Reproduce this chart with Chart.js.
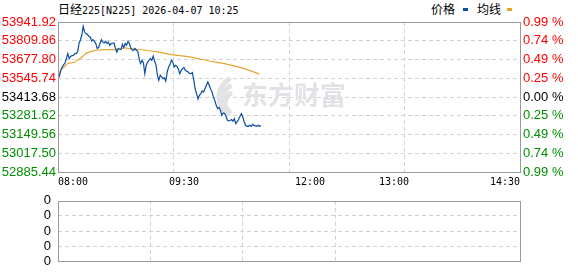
<!DOCTYPE html>
<html>
<head>
<meta charset="utf-8">
<script src="https://cdn.jsdelivr.net/npm/chart.js@4.4.1/dist/chart.umd.min.js"></script>
<style>
  body { margin: 0; background: #fff; width: 578px; height: 276px; overflow: hidden; position: relative; }
  canvas { position: absolute; left: 0; }
  #main { top: 0; }
  #vol { top: 186px; }
  .txt { position: absolute; top: 2px; height: 14px; line-height: 14px; white-space: nowrap; color: #000; }
  .cjk { font-family: "Noto Sans CJK SC"; font-size: 12px; }
  .mono { font-family: "DejaVu Sans Mono"; font-size: 10px; }
  .key { position: absolute; top: 8px; width: 5px; height: 3px; }
</style>
</head>
<body>
<div class="txt" style="left:58px"><span class="cjk">日经</span><span class="mono">225[N225] 2026-04-07 10:25</span></div>
<div class="txt cjk" style="left:431px">价格</div>
<div class="key" style="left:463px;background:#0b4fa3"></div>
<div class="txt cjk" style="left:477px">均线</div>
<div class="key" style="left:507px;background:#e3a72f"></div>
<canvas id="main" width="578" height="192"></canvas>
<canvas id="vol" width="578" height="90"></canvas>
<script>
// minutes from 08:00, one price per minute up to 10:25
var price = [
  53571, 53560, 53602, 53625, 53640, 53653, 53684, 53719, 53684, 53700,
  53705, 53707, 53719, 53719, 53731, 53790, 53815, 53850, 53912, 53871,
  53860, 53855, 53841, 53836, 53808, 53818, 53805, 53790, 53755, 53762,
  53790, 53818, 53800, 53794, 53806, 53790, 53801, 53778, 53790, 53792,
  53794, 53759, 53731, 53755, 53750, 53748, 53785, 53762, 53790, 53778,
  53806, 53790, 53759, 53745, 53743, 53755, 53743, 53736, 53680, 53649,
  53672, 53656, 53578, 53637, 53660, 53672, 53684, 53672, 53702, 53665,
  53640, 53567, 53531, 53567, 53555, 53543, 53548, 53526, 53590, 53625,
  53642, 53672, 53660, 53625, 53637, 53630, 53609, 53578, 53602, 53614,
  53621, 53602, 53595, 53590, 53580, 53578, 53586, 53531, 53470, 53438,
  53400, 53426, 53438, 53456, 53449, 53473, 53496, 53519, 53496, 53470,
  53450, 53414, 53390, 53355, 53332, 53340, 53320, 53285, 53301, 53297,
  53278, 53250, 53245, 53248, 53255, 53243, 53262, 53226, 53240, 53255,
  53278, 53297, 53273, 53238, 53214, 53207, 53207, 53214, 53207, 53221,
  53214, 53210, 53207, 53214, 53207, 53212
];
var avgMinutes = [0, 2, 5, 7, 9, 12, 14, 17, 19, 21, 25, 28, 33, 40, 45, 48, 51, 62, 71, 81, 95, 100, 108, 121, 133, 144];
var avgValues = [53566, 53602, 53630, 53649, 53653, 53660, 53672, 53695, 53712, 53726, 53738, 53743, 53748, 53748, 53755, 53759, 53755, 53743, 53731, 53712, 53695, 53684, 53667, 53644, 53614, 53574];
var volume = [];

var priceTicks = [52885.44, 53017.50, 53149.56, 53281.62, 53413.68, 53545.74, 53677.80, 53809.86, 53941.92];
var pctLabels = ['0.99 %', '0.74 %', '0.49 %', '0.25 %', '0.00 %', '0.25 %', '0.49 %', '0.74 %', '0.99 %'];
var timeMinutes = [0, 90, 180, 240, 330];
var timeLabels = ['08:00', '09:30', '12:00', '13:00', '14:30'];
var gridMinutes = [0, 82.5, 165, 247.5, 330];
var volTicks = [0, 1, 2, 3, 4];
var volLabels = ['0', '0', '0', '0', '0'];

var red = '#ff0000', green = '#008f00', gridGrey = '#d2d2d2';

function sideColor(ctx) {
  return ctx.index > 4 ? red : (ctx.index < 4 ? green : '#000');
}
function innerGrid(ctx) {
  var n = ctx.scale.ticks.length;
  return (ctx.index === 0 || ctx.index === n - 1) ? 'rgba(0,0,0,0)' : gridGrey;
}
function setTicks(list) {
  return function (axis) { axis.ticks = list.map(function (v) { return { value: v }; }); };
}

var boxPlugin = {
  id: 'box',
  afterDraw: function (chart) {
    var a = chart.chartArea, c = chart.ctx;
    c.save();
    c.strokeStyle = '#9a9a9a';
    c.lineWidth = 1;
    c.strokeRect(Math.round(a.left) + 0.5, Math.round(a.top) + 0.5,
      Math.round(a.right - a.left), Math.round(a.bottom - a.top));
    c.restore();
  }
};

var markPlugin = {
  id: 'mark',
  beforeDatasetsDraw: function (chart) {
    var a = chart.chartArea, c = chart.ctx;
    var x = a.left + 152, y = a.top + 73;
    c.save();
    c.strokeStyle = '#e2e2e7';
    c.fillStyle = '#e2e2e7';
    c.lineCap = 'round';
    c.lineWidth = 5;
    for (var k = 0; k < 3; k++) {
      c.beginPath();
      c.arc(x + 30 - k * 2, y + 2 + k * 3, 21 - k * 5, Math.PI * 0.7, Math.PI * 1.32);
      c.stroke();
    }
    c.font = 'bold 26px "Noto Sans CJK SC"';
    c.textBaseline = 'middle';
    c.fillText('东方财富', a.left + 184, y);
    c.restore();
  }
};

new Chart(document.getElementById('main'), {
  type: 'line',
  data: {
    datasets: [{
      data: price.map(function (v, i) { return { x: i, y: v }; }),
      borderColor: '#0b4fa3',
      borderWidth: 1.2,
      pointRadius: 0,
      tension: 0
    }, {
      data: avgValues.map(function (v, i) { return { x: avgMinutes[i], y: v }; }),
      borderColor: '#e3a72f',
      borderWidth: 1.2,
      pointRadius: 0,
      tension: 0.3
    }]
  },
  options: {
    responsive: false,
    animation: false,
    layout: { padding: { top: 22, right: 0, left: 0, bottom: 0 } },
    plugins: { legend: { display: false }, tooltip: { enabled: false } },
    scales: {
      xg: {
        type: 'linear', position: 'bottom', min: 0, max: 330,
        afterBuildTicks: setTicks(gridMinutes),
        ticks: { display: false },
        grid: { color: innerGrid, drawTicks: false },
        border: { display: false, dash: [4, 3] },
        afterFit: function (a) { a.height = 0; }
      },
      x: {
        type: 'linear', position: 'bottom', min: 0, max: 330,
        afterBuildTicks: setTicks(timeMinutes),
        ticks: {
          callback: function (v, i) { return timeLabels[i]; },
          align: 'inner', maxRotation: 0, autoSkip: false, padding: 4,
          color: '#000', font: { family: 'DejaVu Sans Mono', size: 10 }
        },
        grid: { display: false, drawTicks: false },
        border: { display: false },
        afterFit: function (a) { a.height = 20; }
      },
      y: {
        position: 'left', min: 52885.44, max: 53941.92,
        afterBuildTicks: setTicks(priceTicks),
        ticks: {
          callback: function (v) { return v.toFixed(2); },
          color: sideColor, padding: 2, autoSkip: false,
          font: { family: 'Liberation Sans', size: 13 }
        },
        grid: { color: innerGrid, drawTicks: false },
        border: { display: false, dash: [4, 3] },
        afterFit: function (a) { a.width = 58; }
      },
      y2: {
        position: 'right', min: 52885.44, max: 53941.92,
        afterBuildTicks: setTicks(priceTicks),
        ticks: {
          callback: function (v, i) { return pctLabels[i]; },
          color: sideColor, padding: 3, autoSkip: false,
          font: { family: 'Liberation Sans', size: 13 }
        },
        grid: { drawOnChartArea: false, drawTicks: false },
        border: { display: false },
        afterFit: function (a) { a.width = 58; }
      }
    }
  },
  plugins: [markPlugin, boxPlugin]
});

new Chart(document.getElementById('vol'), {
  type: 'bar',
  data: { datasets: [{ data: volume, backgroundColor: '#0b4fa3' }] },
  options: {
    responsive: false,
    animation: false,
    layout: { padding: { top: 10, right: 58, left: 0, bottom: 0 } },
    plugins: { legend: { display: false }, tooltip: { enabled: false } },
    scales: {
      x: {
        type: 'linear', min: 0, max: 330,
        afterBuildTicks: setTicks(gridMinutes),
        ticks: { display: false },
        grid: { color: innerGrid, drawTicks: false },
        border: { display: false, dash: [4, 3] },
        afterFit: function (a) { a.height = 6; }
      },
      y: {
        min: 0, max: 4,
        afterBuildTicks: setTicks(volTicks),
        ticks: {
          callback: function (v, i) { return volLabels[i]; },
          color: '#000', padding: 7, autoSkip: false,
          font: { family: 'Liberation Sans', size: 13 }
        },
        grid: { color: innerGrid, drawTicks: false },
        border: { display: false, dash: [4, 3] },
        afterFit: function (a) { a.width = 58; }
      }
    }
  },
  plugins: [boxPlugin]
});
</script>
</body>
</html>
